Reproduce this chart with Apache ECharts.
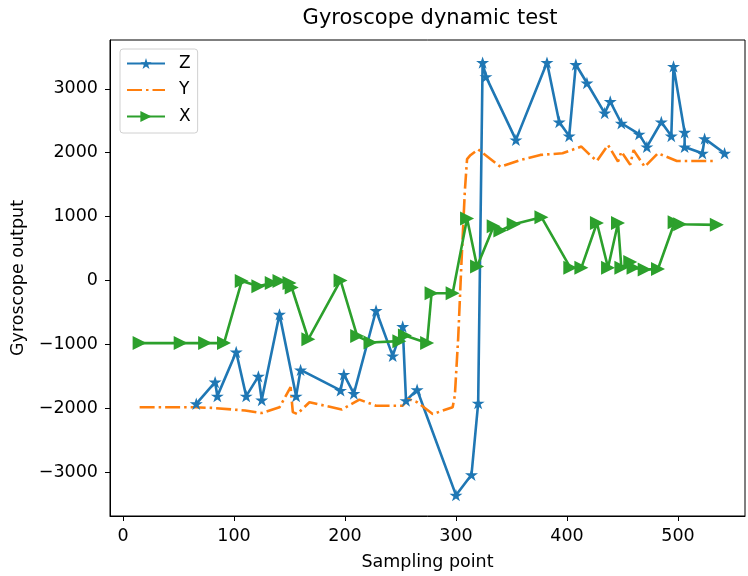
<!DOCTYPE html>
<html>
<head>
<meta charset="utf-8">
<script src="https://cdn.jsdelivr.net/npm/echarts@6/dist/echarts.min.js"></script>
<style>
html, body { margin: 0; padding: 0; background: #fff; }
#chart { width: 748px; height: 576px; }
</style>
</head>
<body>
<div id="chart"></div>
<script>
// sampling point, gyroscope output
var zData = [
    [66, -1930], [83, -1590], [85, -1810], [102, -1120], [111, -1810], [122, -1500],
    [125, -1870], [141, -530], [156, -1810], [160, -1400], [196, -1720], [199, -1470],
    [208, -1770], [228, -470], [243, -1180], [252, -720], [255, -1880], [265, -1710],
    [300, -3360], [314, -3040], [320, -1920], [324, 3410], [327, 3190], [354, 2200],
    [382, 3410], [393, 2480], [402, 2260], [408, 3380], [418, 3090], [434, 2620],
    [439, 2800], [449, 2460], [465, 2290], [472, 2090], [485, 2480], [494, 2260],
    [496, 3350], [506, 2320], [506, 2090], [522, 1990], [524, 2220], [542, 1990]
];
var yData = [
    [15, -1985], [65, -1985], [81, -1995], [110, -2035], [125, -2075], [141, -1985],
    [151, -1670], [153, -2060], [157, -2090], [168, -1905], [197, -2020], [213, -1865],
    [228, -1960], [252, -1960], [257, -1855], [265, -1905], [279, -2090], [297, -1985],
    [299, -1800], [302, -900], [305, 300], [308, 1400], [310, 1900], [313, 1960],
    [320, 2050], [340, 1780], [358, 1885], [376, 1965], [396, 1990], [413, 2095],
    [421, 1960], [427, 1870], [437, 2120], [446, 1860], [449, 2015], [457, 1810],
    [460, 2040], [470, 1780], [482, 1990], [499, 1870], [533, 1870]
];
var xData = [
    [15, -980], [52, -980], [74, -980], [91, -980], [107, -10], [122, -90],
    [134, -40], [141, -10], [150, -40], [152, -110], [167, -920], [196, 0],
    [211, -870], [223, -970], [249, -950], [254, -860], [274, -980], [278, -200],
    [297, -200], [310, 970], [319, 220], [334, 850], [340, 780], [352, 880],
    [377, 990], [403, 200], [413, 200], [427, 900], [437, 200], [446, 900],
    [449, 200], [457, 290], [460, 200], [470, 170], [482, 180], [497, 910],
    [502, 880], [535, 870]
];
var xTicks = [0, 100, 200, 300, 400, 500];
var yTicks = [-3000, -2000, -1000, 0, 1000, 2000, 3000];

var FONT = 'DejaVu Sans';

var starPath = function() {
    var s = 'path://';
    for (var i = 0; i < 10; i++) {
        var a = (-90 + i * 36) * Math.PI / 180;
        var r = i % 2 ? 0.382 : 1;
        s += (i == 0 ? 'M' : 'L') + (r * Math.cos(a)).toFixed(4) + ' ' + (r * Math.sin(a)).toFixed(4) + ' ';
    }
    return s + 'Z';
};

// matplotlib style numbers: no thousands separator, real minus sign
var fmtTick = function(v) {
    return v < 0 ? '\u2212' + Math.abs(v) : String(v);
};

var axisCommon = {
    type: 'value',
    splitLine: { show: false },
    axisLine: { show: true, onZero: false, lineStyle: { color: '#000', width: 1 } },
    axisTick: { show: true, inside: false, length: 5, lineStyle: { color: '#000', width: 1 } },
    nameTextStyle: { fontFamily: FONT, fontSize: 17.5, color: '#000' }
};

var option = {
    animation: false,
    backgroundColor: '#fff',
    title: {
        text: 'Gyroscope dynamic test',
        left: 430,
        top: 8,
        padding: 0,
        textAlign: 'center',
        textStyle: { fontFamily: FONT, fontSize: 21, fontWeight: 'normal', color: '#000' }
    },
    legend: {
        orient: 'vertical',
        left: 120,
        top: 49,
        padding: [6, 7, 8, 6],
        itemWidth: 38,
        itemHeight: 14,
        itemGap: 9.5,
        backgroundColor: 'rgba(255,255,255,0.8)',
        borderColor: '#d0d0d0',
        borderWidth: 1,
        borderRadius: 3,
        textStyle: { fontFamily: FONT, fontSize: 17, color: '#000', padding: [0, 0, 0, 9] },
        data: ['Z', { name: 'Y', itemStyle: { opacity: 0 } }, 'X']
    },
    grid: {
        left: 110, right: 3, top: 40, bottom: 58,
        show: true, borderColor: '#000', borderWidth: 1
    },
    xAxis: Object.assign({}, axisCommon, {
        min: -11.7,
        max: 560.4,
        name: 'Sampling point',
        nameLocation: 'middle',
        nameGap: 37,
        axisTick: Object.assign({}, axisCommon.axisTick, { customValues: xTicks }),
        axisLabel: { customValues: xTicks, formatter: fmtTick, margin: 11, fontFamily: FONT, fontSize: 17.5, color: '#000' }
    }),
    yAxis: Object.assign({}, axisCommon, {
        min: -3686,
        max: 3763,
        name: 'Gyroscope output',
        nameLocation: 'middle',
        nameGap: 80,
        axisTick: Object.assign({}, axisCommon.axisTick, { customValues: yTicks }),
        axisLabel: { customValues: yTicks, formatter: fmtTick, margin: 12, fontFamily: FONT, fontSize: 17.5, color: '#000' }
    }),
    series: [
        {
            name: 'Z', type: 'line', data: zData,
            symbol: starPath(), symbolKeepAspect: true, symbolSize: 13,
            itemStyle: { color: '#1f77b4' },
            lineStyle: { color: '#1f77b4', width: 2.6 }
        },
        {
            name: 'Y', type: 'line', data: yData,
            symbol: 'none',
            itemStyle: { color: '#ff7f0e' },
            lineStyle: { color: '#ff7f0e', width: 2.6, type: [15, 4, 2.5, 4] }
        },
        {
            name: 'X', type: 'line', data: xData,
            symbol: 'triangle', symbolRotate: -90, symbolSize: 14,
            itemStyle: { color: '#2ca02c' },
            lineStyle: { color: '#2ca02c', width: 2.6 }
        }
    ]
};

var myChart = echarts.init(document.getElementById('chart'));
myChart.setOption(option);
</script>
</body>
</html>
